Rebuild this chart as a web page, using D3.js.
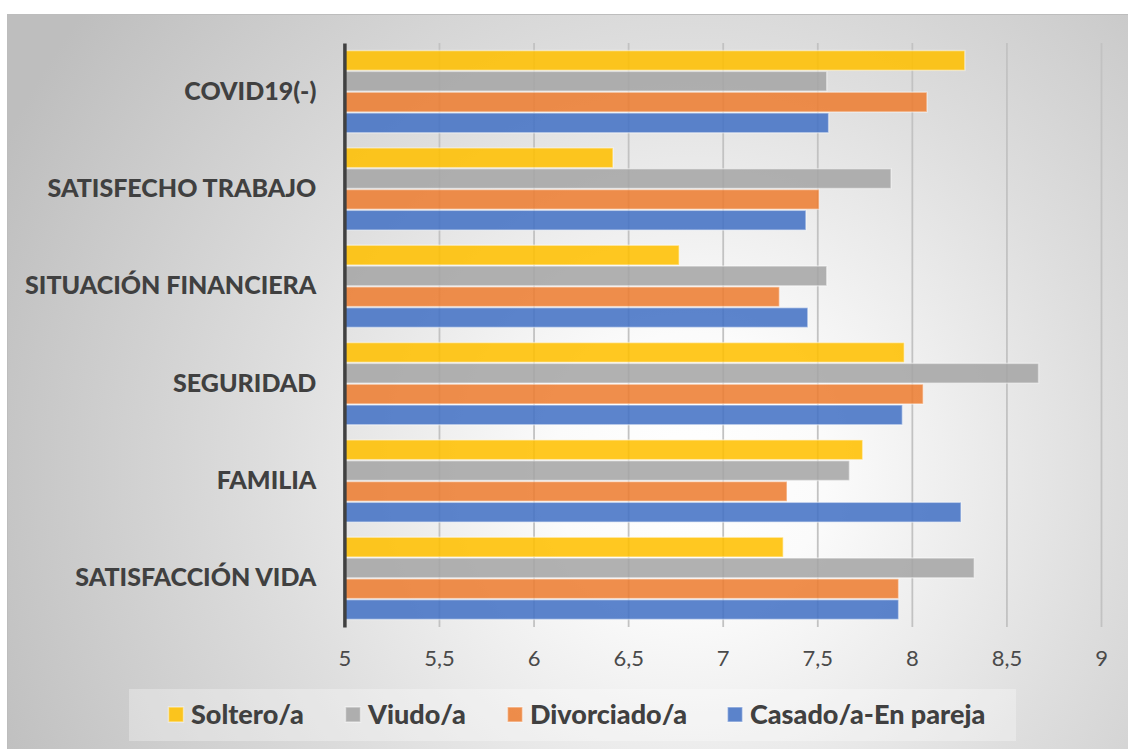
<!DOCTYPE html>
<html><head><meta charset="utf-8">
<script src="https://cdn.jsdelivr.net/npm/d3@7"></script>
<style>html,body{margin:0;padding:0;background:#fff;}svg{display:block;}</style>
</head><body>
<svg id="chart" width="1128" height="749"></svg>
<script>
const categories = ["COVID19(-)", "SATISFECHO TRABAJO", "SITUACIÓN FINANCIERA", "SEGURIDAD", "FAMILIA", "SATISFACCIÓN VIDA"];
const seriesNames = ["Soltero/a", "Viudo/a", "Divorciado/a", "Casado/a-En pareja"];
const soltero    = [8.28, 6.42, 6.77, 7.96, 7.74, 7.32];
const viudo      = [7.55, 7.89, 7.55, 8.67, 7.67, 8.33];
const divorciado = [8.08, 7.51, 7.30, 8.06, 7.34, 7.93];
const casado     = [7.56, 7.44, 7.45, 7.95, 8.26, 7.93];
const tickValues = [5, 5.5, 6, 6.5, 7, 7.5, 8, 8.5, 9];
const colors = ["#FFC000", "#A5A5A5", "#ED7D31", "#4472C4"];

const seriesValues = [soltero, viudo, divorciado, casado];

const svg = d3.select("#chart");
const defs = svg.append("defs");

const rg = defs.append("radialGradient").attr("id", "bg")
  .attr("gradientUnits", "userSpaceOnUse")
  .attr("cx", 690).attr("cy", 470).attr("r", 760);
rg.append("stop").attr("offset", "0").attr("stop-color", "#ffffff");
rg.append("stop").attr("offset", "0.18").attr("stop-color", "#fbfbfb");
rg.append("stop").attr("offset", "0.55").attr("stop-color", "#dedede");
rg.append("stop").attr("offset", "1").attr("stop-color", "#bebebe");

const gg = defs.append("linearGradient").attr("id", "grid")
  .attr("gradientUnits", "userSpaceOnUse")
  .attr("x1", 0).attr("y1", 43).attr("x2", 0).attr("y2", 627);
gg.append("stop").attr("offset", "0").attr("stop-color", "#c2c2c2");
gg.append("stop").attr("offset", "1").attr("stop-color", "#6a6a6a");

// frame
svg.append("rect").attr("x", 7.5).attr("y", 14.5).attr("width", 1125).attr("height", 740)
  .attr("fill", "url(#bg)").attr("stroke", "#bdbdbd").attr("stroke-width", 1);

const x = d3.scaleLinear().domain([5, 9]).range([344.4, 1101]);
const y = d3.scaleBand().domain(categories).range([43, 627]).paddingInner(0.145).paddingOuter(0.0725);
const ys = d3.scaleBand().domain(d3.range(seriesNames.length)).range([0, y.bandwidth()]);

// gridlines
svg.append("g")
  .attr("transform", "translate(0,627)")
  .call(d3.axisBottom(x).tickValues(tickValues.slice(1)).tickSize(-584).tickFormat(""))
  .call(g => g.select(".domain").remove())
  .call(g => g.selectAll(".tick line").attr("stroke", "url(#grid)").attr("stroke-width", 1.8));

// bars
const rows = categories.map((c, i) => ({c, vals: seriesValues.map(s => s[i])}));
const grp = svg.append("g").selectAll("g").data(rows).join("g")
  .attr("transform", d => `translate(0,${y(d.c)})`);
grp.selectAll("rect").data(d => d.vals.map((v, k) => ({v, k}))).join("rect")
  .attr("x", x(5))
  .attr("y", d => ys(d.k) + 0.5)
  .attr("width", d => x(d.v) - x(5))
  .attr("height", ys.bandwidth() - 1)
  .attr("fill", d => colors[d.k])
  .attr("fill-opacity", 0.87)
  .attr("stroke", "#ffffff")
  .attr("stroke-opacity", 0.45)
  .attr("stroke-width", 1.5);

// value axis labels
const xAxis = svg.append("g")
  .attr("transform", "translate(0,627)")
  .call(d3.axisBottom(x).tickValues(tickValues).tickSize(0).tickPadding(20)
    .tickFormat(d => String(d).replace(".", ",")));
xAxis.select(".domain").remove();
xAxis.selectAll("text").attr("font-family", "Lato, 'Open Sans', sans-serif")
  .attr("font-size", 22).attr("fill", "#4a4a4a").attr("dy", "0.32em").attr("y", 32);

// category axis
const yAxis = svg.append("g")
  .attr("transform", "translate(344.4,0)")
  .call(d3.axisLeft(y).tickSize(0).tickPadding(28));
yAxis.select(".domain").attr("stroke", "#404040").attr("stroke-width", 3.5);
yAxis.selectAll("text").attr("font-family", "Lato, 'Open Sans', sans-serif")
  .attr("font-size", 25).attr("font-weight", 900).attr("fill", "#404040");

// legend
const legend = svg.append("g");
legend.append("rect").attr("x", 129).attr("y", 689).attr("width", 887).attr("height", 52)
  .attr("fill", "#ffffff").attr("fill-opacity", 0.3);
const legendX = [168, 345, 507, 727];
const li = legend.selectAll("g.item").data(seriesNames).join("g").attr("class", "item")
  .attr("transform", (d, i) => `translate(${legendX[i]},715)`);
li.append("rect").attr("x", 0.5).attr("y", -8).attr("width", 15).attr("height", 15)
  .attr("fill", (d, i) => colors[i]).attr("fill-opacity", 0.87)
  .attr("stroke", "#fff").attr("stroke-opacity", 0.45).attr("stroke-width", 1.5);
li.append("text").attr("x", 23).attr("y", 0).attr("dy", "0.35em")
  .attr("font-family", "Lato, 'Open Sans', sans-serif").attr("font-size", 27)
  .attr("font-weight", 900).attr("fill", "#404040").text(d => d);
</script>
</body></html>
